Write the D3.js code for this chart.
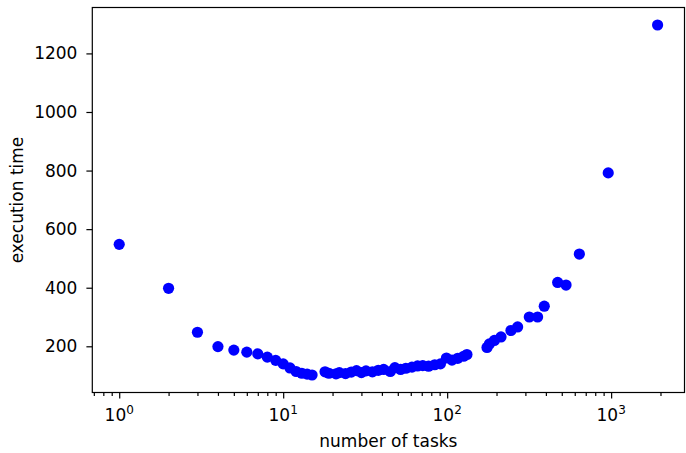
<!DOCTYPE html>
<html>
<head>
<meta charset="utf-8">
<script src="https://cdn.jsdelivr.net/npm/d3@7"></script>
<style>
  body { margin: 0; background: #fff; }
  text { font-family: "DejaVu Sans", sans-serif; fill: #000; }
</style>
</head>
<body>
<div id="chart"></div>
<script>
// number of tasks vs execution time
var tasks = [1, 2, 3, 4, 5, 6, 7, 8, 9, 10, 11, 12, 13, 14, 15,
  18, 19, 21, 22, 24, 26, 28, 30, 32, 35, 38, 41, 45, 48, 52, 56, 61, 66, 71, 77, 84, 91, 99, 107, 116, 126, 132,
  175, 181, 194, 213, 245, 269, 317, 356, 391, 472, 531, 640, 960, 1920];
var execTime = [548, 398, 248, 199, 187, 180, 174, 163, 152, 140, 126, 114, 108, 105, 102,
  113, 108, 106, 110, 107, 112, 117, 110, 116, 113, 118, 121, 114, 127, 121, 125, 129, 133, 134, 132, 137, 140, 160, 153, 159, 166, 172,
  196, 208, 220, 232, 254, 266, 300, 300, 337, 418, 409, 515, 792, 1297];
var xMajorTicks = [1, 10, 100, 1000];
var xTickExps = ["0", "1", "2", "3"];
var yTicks = [200, 400, 600, 800, 1000, 1200];

var W = 686, H = 453;
var margin = {top: 7.5, right: 1.5, bottom: 60.5, left: 92.3};
var width = W - margin.left - margin.right;
var height = H - margin.top - margin.bottom;

var svg = d3.select("#chart")
  .append("svg")
  .attr("width", W)
  .attr("height", H);
var g = svg.append("g")
  .attr("transform", "translate(" + margin.left + "," + margin.top + ")");

// matplotlib style 5% margins (log space for x)
var lx0 = Math.log10(d3.min(tasks)), lx1 = Math.log10(d3.max(tasks));
var px = (lx1 - lx0) * 0.05;
var x = d3.scaleLog()
  .domain([Math.pow(10, lx0 - px), Math.pow(10, lx1 + px)])
  .range([0, width]);
var y0 = d3.min(execTime), y1 = d3.max(execTime);
var py = (y1 - y0) * 0.05;
var y = d3.scaleLinear().domain([y0 - py, y1 + py]).range([height, 0]);

// minor ticks on the log axis
var dom = x.domain();
var minor = [];
for (var e = -1; e <= 4; e++) {
  for (var m = 2; m <= 9; m++) {
    var v = m * Math.pow(10, e);
    if (v >= dom[0] && v <= dom[1]) minor.push(v);
  }
}

var xMinor = g.append("g")
  .attr("transform", "translate(0," + height + ")")
  .call(d3.axisBottom(x).tickValues(minor).tickSize(3.4).tickFormat(""));
xMinor.select(".domain").remove();

var xAxis = g.append("g")
  .attr("transform", "translate(0," + height + ")")
  .call(d3.axisBottom(x).tickValues(xMajorTicks).tickSize(5.9).tickFormat(""));
xAxis.select(".domain").remove();
g.selectAll(".tick line").attr("stroke", "#000").attr("stroke-width", 1.2);

// 10^n labels
var xl = g.append("g").selectAll("text")
  .data(xMajorTicks)
  .enter().append("text")
  .attr("x", function(d) { return x(d); })
  .attr("y", height + 28)
  .attr("text-anchor", "middle")
  .style("font-size", "17px");
xl.append("tspan").text("10");
xl.append("tspan")
  .attr("dy", -7)
  .style("font-size", "12px")
  .text(function(d, i) { return xTickExps[i]; });

var yAxis = g.append("g")
  .call(d3.axisLeft(y).tickValues(yTicks).tickSize(5.9).tickPadding(9).tickFormat(d3.format("d")));
yAxis.select(".domain").remove();
yAxis.selectAll(".tick line").attr("stroke", "#000").attr("stroke-width", 1.2);
yAxis.selectAll(".tick text")
  .style("font-size", "17px")
  .style("font-family", "DejaVu Sans")
  .attr("fill", "#000");

// frame
g.append("rect")
  .attr("width", width)
  .attr("height", height)
  .attr("fill", "none")
  .attr("stroke", "#000")
  .attr("stroke-width", 1.2);

g.append("g").selectAll("circle")
  .data(tasks)
  .enter().append("circle")
  .attr("cx", function(d) { return x(d); })
  .attr("cy", function(d, i) { return y(execTime[i]); })
  .attr("r", 5.6)
  .attr("fill", "#0000ff");

svg.append("text")
  .attr("x", margin.left + width / 2)
  .attr("y", 447)
  .attr("text-anchor", "middle")
  .style("font-size", "17px")
  .text("number of tasks");

svg.append("text")
  .attr("transform", "translate(23," + (margin.top + height / 2) + ") rotate(-90)")
  .attr("text-anchor", "middle")
  .style("font-size", "17px")
  .text("execution time");
</script>
</body>
</html>
